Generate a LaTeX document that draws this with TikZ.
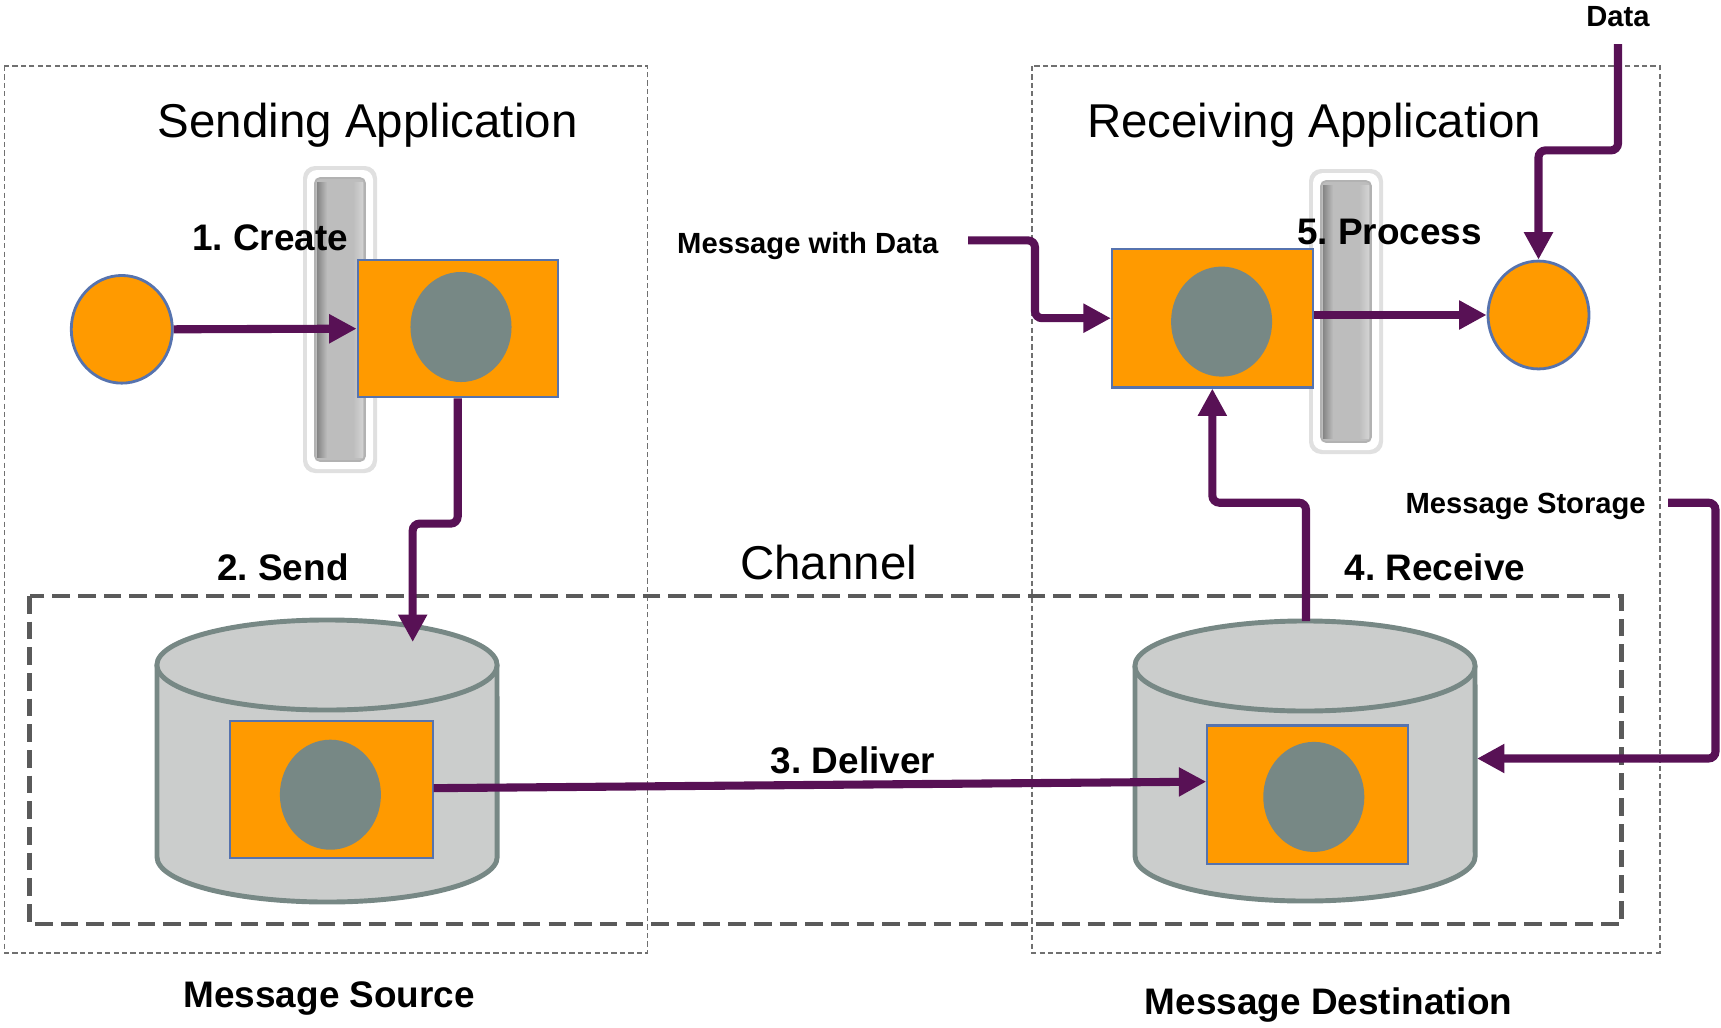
\documentclass[tikz,border=0pt]{standalone}
\usepackage{fontspec}
\setmainfont{Liberation Sans}
\usetikzlibrary{arrows.meta,shapes.geometric}
\frenchspacing

\definecolor{msgorange}{HTML}{FF9A00}
\definecolor{msgblue}{HTML}{5673AE}
\definecolor{tokengray}{HTML}{778885}
\definecolor{drumfill}{HTML}{CBCDCC}
\definecolor{drumline}{HTML}{778885}
\definecolor{flowpurple}{HTML}{581155}
\definecolor{chanline}{HTML}{5A5A5A}
\definecolor{appline}{HTML}{707070}
\definecolor{barfill}{HTML}{BDBDBD}

\tikzset{
  flow/.style={draw=flowpurple, line width=2.3pt, rounded corners=2pt,
    -{Triangle[length=7.8pt,width=7.8pt]}},
  appbox/.style={draw=appline, line width=0.5pt, dash pattern=on 1.5pt off 0.9pt},
  chanbox/.style={draw=chanline, line width=1.3pt, dash pattern=on 5pt off 2.3pt},
  msgbox/.style={rectangle, fill=msgorange, draw=msgblue, line width=0.6pt,
    inner sep=0pt},
  dot/.style={ellipse, fill=msgorange, draw=msgblue, line width=0.8pt, inner sep=0pt},
  drum/.style={fill=drumfill, draw=drumline, line width=1.4pt},
  title/.style={font=\fontsize{13.5}{16}\selectfont, anchor=base},
  stage/.style={font=\bfseries\fontsize{10.5}{12}\selectfont, anchor=base},
  note/.style={font=\bfseries\fontsize{8.3}{10}\selectfont, anchor=base},
}

% a vertical endpoint bar with a white rim
\newcommand{\gatebar}[4]{%
  \fill[black!12, rounded corners=0.12cm] (#1-4,#2-4) rectangle (#3+4,#4+4);
  \fill[white, rounded corners=0.1cm] (#1,#2) rectangle (#3,#4);
  \fill[barfill, rounded corners=0.05cm] (#1+8,#2+8) rectangle (#3-8,#4-8);
  \shade[left color=black!48, right color=barfill]
    (#1+10,#2+12) rectangle (#1+20,#4-12);
  \shade[left color=barfill, right color=black!17]
    (#3-20,#2+12) rectangle (#3-10,#4-12);
  \draw[black!30, line width=0.5pt, rounded corners=0.05cm]
    (#1+8,#2+8) rectangle (#3-8,#4-8);
}

% a storage drum: centre x, top y, bottom y
\newcommand{\storagedrum}[3]{%
  \path[drum] (#1-170,#2) -- (#1-170,#3)
    arc[start angle=180, end angle=360, x radius=1.7cm, y radius=0.45cm]
    -- (#1+170,#2);
  \path[drum] (#1,#2) ellipse [x radius=1.7cm, y radius=0.45cm];
}

\begin{document}
\begin{tikzpicture}[x=0.01cm, y=-0.01cm]
\useasboundingbox (0,0) rectangle (1721,1027);

% application frames and the channel
\draw[appbox] (4.4,65.9) rectangle (647.6,952.7);
\draw[appbox] (1031.7,65.9) rectangle (1659.6,952.7);
\draw[chanbox] (29.6,596) rectangle (1621.2,924.2);

% queues
\storagedrum{327}{665}{857}
\storagedrum{1305}{666}{856}

% endpoint bars
\gatebar{307}{170}{373}{469}
\gatebar{1313}{173}{1379}{450}

% messages
\node[msgbox, minimum width=2.0cm, minimum height=1.373cm] (cmsg) at (457.7,328.65) {};
\fill[tokengray] (461,327) ellipse [x radius=0.505cm, y radius=0.55cm];
\node[msgbox, minimum width=2.007cm, minimum height=1.384cm] (rmsg) at (1212.35,318.2) {};
\fill[tokengray] (1221.6,321.6) ellipse [x radius=0.505cm, y radius=0.55cm];
\node[msgbox, minimum width=2.02cm, minimum height=1.373cm] (smsg) at (331.5,789.65) {};
\fill[tokengray] (330.4,794.7) ellipse [x radius=0.505cm, y radius=0.55cm];
\node[msgbox, minimum width=2.008cm, minimum height=1.383cm] (dmsg) at (1307.8,794.65) {};
\fill[tokengray] (1313.8,796.9) ellipse [x radius=0.505cm, y radius=0.55cm];

% data points
\node[dot, minimum width=1.01cm, minimum height=1.076cm] (srcdot) at (121.8,329.3) {};
\node[dot, minimum width=1.01cm, minimum height=1.078cm] (dstdot) at (1538.5,315) {};

% connector ends
\coordinate (sqin) at (412.7,642);
\coordinate (dqtop) at (1306,621);
\coordinate (dqeast) at (1477,758.5);
\coordinate (mwdfrom) at (968,240.4);
\coordinate (datafrom) at (1618,44);
\coordinate (msfrom) at (1668,502.7);

% flows
\draw[flow] (srcdot.east) -- (cmsg.west);
\draw[flow] (cmsg.south) -- ++(0,125.2) -| (sqin);
\draw[flow] ([yshift=0.015cm]smsg.east) -- ([yshift=0.13cm]dmsg.west);
\draw[flow] (dqtop) -- ++(0,-118.3) -| (rmsg.south);
\draw[flow] (mwdfrom) -- ++(67,0) |- (rmsg.west);
\draw[flow] (rmsg.east |- dstdot.west) -- (dstdot.west);
\draw[flow] (datafrom) -- ++(0,106.4) -| (dstdot.north);
\draw[flow] (msfrom) -- ++(47.5,0) |- (dqeast);

% titles
\node[title] (tsend) at (367.7,137.2) {Sending Application};
\node[title] (trecv) at (1314,137.2) {Receiving Application};
\node[title] (tchan) at (828.7,579.5) {Channel};

% stages
\node[stage] (l1) at (270,250.3) {1. Create};
\node[stage] (l2) at (283,580.6) {2. Send};
\node[stage] (l3) at (853,773.8) {3. Deliver};
\node[stage] (l4) at (1435,580.6) {4. Receive};
\node[stage] (l5) at (1389.6,244.8) {5. Process};
\node[stage] (lsrc) at (329.3,1007.6) {Message Source};
\node[stage] (ldst) at (1328.6,1014) {Message Destination};

% notes
\node[note] (mwd) at (807.8,253) {Message with Data};
\node[note] (data) at (1618,26.9) {Data};
\node[note] (mstore) at (1525.7,513) {Message Storage};
\end{tikzpicture}
\end{document}
